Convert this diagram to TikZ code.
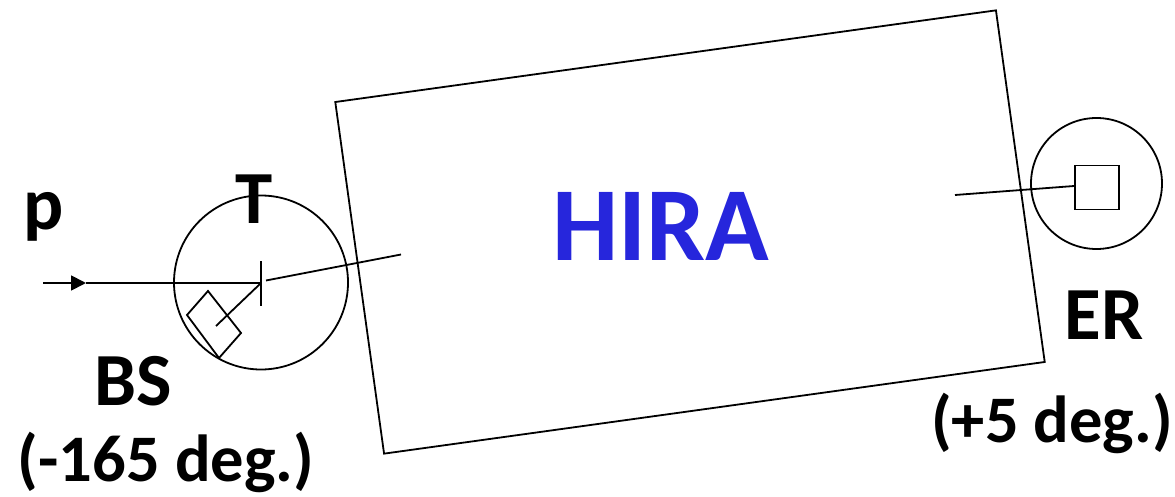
\documentclass[tikz,border=0pt]{standalone}
\usepackage{fontspec}
\setmainfont{Carlito}
\usetikzlibrary{arrows.meta}
\definecolor{hirablue}{RGB}{38,38,220}
\tikzset{
  part/.style={draw,inner sep=0pt,line width=1.8pt},
  chamber/.style={part,circle},
  tag/.style={font=\fontsize{75}{75}\bfseries\selectfont,inner sep=0pt},
  angletag/.style={font=\fontsize{66.5}{66.5}\bfseries\selectfont,inner sep=0pt},
  beam/.style={line width=1.8pt}
}
\begin{document}
\begin{tikzpicture}[x=1pt,y=-1pt]
\useasboundingbox (0,0) rectangle (1175,497);
% spectrometer
\node[part,rotate=7.9,minimum width=667pt,minimum height=355pt] (hira) at (690,232) {};
\node[font=\fontsize{105}{105}\bfseries\selectfont,text=hirablue,inner sep=0pt] (name) at (661,226) {HIRA};
% scattering chamber
\node[chamber,minimum size=174pt] (chamber) at (261,282.5) {};
\coordinate (target) at (261,283);
\coordinate (tickup) at (261,261);
\coordinate (tickdown) at (261,306);
\coordinate (beamstart) at (43,283);
\coordinate (beamtip) at (86,283);
\coordinate (accin) at (401,254.5);
\coordinate (accout) at (266,280.5);
\coordinate (bsend) at (216,326);
\coordinate (bsa) at (208,291);
\coordinate (bsb) at (241,333);
\coordinate (bsc) at (219,358);
\coordinate (bsd) at (187,315);
\draw[beam] (bsa) -- (bsb) -- (bsc) -- (bsd) -- cycle;
\draw[beam,-{Triangle[length=15pt,width=15pt]}] (beamstart) -- (beamtip);
\draw[beam] (beamtip) -- (target);
\draw[beam] (tickup) -- (tickdown);
\draw[beam] (accout) -- (accin);
\draw[beam] (target) -- (bsend);
% recoil detector
\node[chamber,minimum size=131pt] (erchamber) at (1096.5,183.5) {};
\node[part,minimum size=44pt] (er) at (1097,187.5) {};
\coordinate (erin) at (955,195);
\draw[beam] (erin) -- (er.west |- 0,186);
% labels
\node[tag] (plabel) at (44,217) {p};
\node[tag] (tlabel) at (254,199) {T};
\node[tag] (bslabel) at (133,381) {BS};
\node[angletag] (bsangle) at (166,462) {(-165 deg.)};
\node[tag] (erlabel) at (1104,315) {ER};
\node[angletag] (erangle) at (1052,423) {(+5 deg.)};
\end{tikzpicture}
\end{document}
